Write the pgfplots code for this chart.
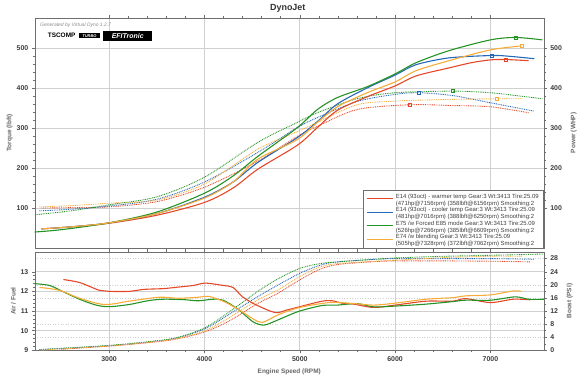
\documentclass[border=0pt]{standalone}
\usepackage{fontspec}
\setmainfont{Liberation Sans}
\usepackage{pgfplots}
\pgfplotsset{compat=1.18}
\definecolor{cred}{RGB}{228,72,40}
\definecolor{cblue}{RGB}{38,104,184}
\definecolor{cgreen}{RGB}{36,146,36}
\definecolor{corange}{RGB}{246,172,56}
\definecolor{gridc}{RGB}{208,208,208}
\definecolor{axc}{RGB}{110,110,110}
\definecolor{tickc}{RGB}{60,60,60}
\pgfplotsset{set layers,
 base/.style={scale only axis, width=513pt, xmin=2220, xmax=7560,
  xtick={3000,4000,5000,6000,7000}, minor x tick num=4,
  axis line style={axc}, every tick/.style={axc},
  tick label style={font=\fontsize{7}{8}\selectfont\bfseries, text=tickc},
  /pgf/number format/assume math mode=true,
  /pgf/number format/set thousands separator={},
  label style={font=\fontsize{6.5}{7}\selectfont\bfseries, text=black!60},
  tick align=outside, major tick length=3pt, minor tick length=1.8pt,
  grid style={gridc, line width=0.6pt}},
 dt/.style={dash pattern=on 0.9pt off 0.9pt, line width=0.9pt, smooth, tension=0.5},
 sl/.style={line width=1.1pt, smooth, tension=0.5},
 pk/.style={only marks, mark=square, mark size=1.5pt, mark options={solid, line width=0.5pt}},
}
\begin{document}
\begin{tikzpicture}
\path (0pt,0pt) rectangle (580pt,381pt);
% ---------- top panel: torque (left) ----------
\begin{axis}[base, at={(35pt,131pt)}, anchor=south west, height=232pt,
  ymin=0, ymax=575, ytick={100,200,300,400,500}, minor y tick num=4,
  xticklabels={}, xmajorgrids, ymajorgrids, ytick pos=left,
  ylabel={Torque (lbft)}, ylabel style={xshift=0pt, yshift=-3pt}]
\addplot[cred, dt] coordinates {(2290,100) (2600,101) (3000,103) (3500,116) (4000,152) (4560,217) (4975,279) (5185,304) (5600,346) (6156,358) (6600,356) (7000,353) (7400,338)};
\addplot[cblue, dt] coordinates {(2270,93) (2600,97) (3000,105) (3500,122) (4000,165) (4560,239) (4975,301) (5185,326) (5600,366) (6000,384) (6250,388) (6600,381) (7000,363) (7460,342)};
\addplot[cgreen, dt] coordinates {(2210,83) (2600,93) (3000,108) (3500,128) (4000,177) (4560,264) (4975,314) (5185,338) (5600,373) (6000,388) (6609,392) (7000,388) (7300,380) (7545,373)};
\addplot[corange, dt] coordinates {(2270,103) (2600,106) (3000,112) (3500,120) (4000,160) (4560,247) (4975,291) (5185,314) (5600,358) (6000,367) (6500,371) (7062,373) (7335,373)};
\addplot[cred, pk] coordinates {(6156,358)};
\addplot[cblue, pk] coordinates {(6250,388)};
\addplot[cgreen, pk] coordinates {(6609,392)};
\addplot[corange, pk] coordinates {(7062,373)};
\end{axis}
% ---------- top panel: power (right) ----------
\begin{axis}[base, at={(35pt,131pt)}, anchor=south west, height=232pt,
  ymin=0, ymax=575, ytick={100,200,300,400,500}, minor y tick num=4,
  xticklabels={}, ytick pos=right, yticklabel pos=right,
  ylabel={Power (WHP)}, ylabel style={yshift=-2pt},
  legend style={at={(1,0)}, anchor=south east, draw=axc, fill=white,
    font=\fontsize{6}{6.6}\selectfont, text=black!75, inner xsep=3pt, inner ysep=2pt,
    row sep=0pt, cells={anchor=west}},
  legend image code/.code={\draw[#1] (0pt,0pt) -- (27pt,0pt);}]
\addplot[cred, sl, forget plot] coordinates {(2290,48) (2600,53) (3000,62) (3500,82) (4000,114) (4300,150) (4560,197) (4975,257) (5185,301) (5395,344) (5707,378) (6000,405) (6220,430) (6565,450) (6800,463) (7000,470) (7156,471) (7400,468)};
\addplot[cblue, sl, forget plot] coordinates {(2290,48) (2600,53) (3000,63) (3500,86) (4000,127) (4300,165) (4560,214) (4975,276) (5185,316) (5395,360) (5707,400) (6000,432) (6220,458) (6565,475) (7016,481) (7200,479) (7460,473)};
\addplot[cgreen, sl, forget plot] coordinates {(2210,40) (2500,46) (3000,63) (3500,90) (4000,137) (4300,180) (4560,229) (4975,301) (5185,346) (5395,376) (5707,403) (6000,435) (6220,463) (6565,493) (7000,520) (7266,526) (7545,520)};
\addplot[corange, sl, forget plot] coordinates {(2290,48) (2600,53) (3000,63) (3500,86) (4000,125) (4300,165) (4560,222) (4975,271) (5185,314) (5395,353) (5707,388) (6000,415) (6220,443) (6565,468) (7000,495) (7328,505)};
\addplot[cred, pk, forget plot] coordinates {(7156,471)};
\addplot[cblue, pk, forget plot] coordinates {(7016,481)};
\addplot[cgreen, pk, forget plot] coordinates {(7266,526)};
\addplot[corange, pk, forget plot] coordinates {(7328,505)};
\addlegendimage{draw=cred, line width=1.1pt}
\addlegendentry{\begin{tabular}{@{}l@{}}E14 (93oct) - warmer temp Gear:3 Wt:3413 Tire:25.09\\(471hp@7156rpm) (358lbft@6156rpm) Smoothing:2\end{tabular}}
\addlegendimage{draw=cblue, line width=1.1pt}
\addlegendentry{\begin{tabular}{@{}l@{}}E14 (93oct) - cooler temp Gear:3 Wt:3413 Tire:25.09\\(481hp@7016rpm) (388lbft@6250rpm) Smoothing:2\end{tabular}}
\addlegendimage{draw=cgreen, line width=1.1pt}
\addlegendentry{\begin{tabular}{@{}l@{}}E75 /w Forced E85 mode Gear:3 Wt:3413 Tire:25.09\\(526hp@7266rpm) (385lbft@6609rpm) Smoothing:2\end{tabular}}
\addlegendimage{draw=corange, line width=1.1pt}
\addlegendentry{\begin{tabular}{@{}l@{}}E74 /w blending Gear:3 Wt:3413 Tire:25.09\\(505hp@7328rpm) (372lbft@7062rpm) Smoothing:2\end{tabular}}
\end{axis}
% ---------- bottom panel: boost (right) ----------
\begin{axis}[base, at={(35pt,28pt)}, anchor=south west, height=99pt,
  ymin=0, ymax=30, ytick={0,4,8,12,16,20,24,28}, minor y tick num=1,
  xticklabels={}, ymajorgrids, grid style={gridc, dotted, line width=0.6pt},
  ytick pos=right, yticklabel pos=right, ylabel={Boost (PSI)}, ylabel style={yshift=-2pt}]
\addplot[cred, dt] coordinates {(2500,0.3) (3000,1.3) (3400,2.3) (3700,3.4) (4000,5.6) (4250,8.8) (4560,14.3) (4770,17.4) (5000,21.5) (5215,24.8) (5400,26.2) (5735,27) (6000,27.3) (6500,27.3) (7000,27.2) (7420,27)};
\addplot[cblue, dt] coordinates {(2270,0.2) (3000,1.4) (3400,2.5) (3700,3.7) (4000,6.5) (4250,10.8) (4560,16.4) (4770,19.9) (5000,23.5) (5215,26) (5400,27) (5735,27.7) (6000,28) (6500,28) (7000,28) (7460,27.8)};
\addplot[cgreen, dt] coordinates {(2270,0.2) (3000,1.5) (3400,2.6) (3700,3.8) (4000,6.8) (4250,11.5) (4560,18) (4770,21.8) (5000,25) (5215,26.5) (5400,27) (5735,27.7) (6000,28.2) (6500,28.7) (7000,29) (7560,29.4)};
\addplot[corange, dt] coordinates {(2270,0) (3000,1.3) (3400,2.4) (3700,3.5) (4000,5.9) (4250,9.8) (4560,15.4) (4770,18.4) (5000,22.5) (5215,25.5) (5400,26.5) (5735,27.1) (6000,27.5) (6500,28.3) (7000,28.7) (7330,28.7)};
\end{axis}
% ---------- bottom panel: air/fuel (left) ----------
\begin{axis}[base, at={(35pt,28pt)}, anchor=south west, height=99pt,
  ymin=9, ymax=14, ytick={9,10,11,12,13}, minor y tick num=4,
  xmajorgrids, ymajorgrids, ytick pos=left,
  ylabel={Air / Fuel}, ylabel style={yshift=-2pt}, xlabel={Engine Speed (RPM)}]
\addplot[cred, sl] coordinates {(2520,12.6) (2690,12.45) (2900,12.05) (3000,12.0) (3210,12.0) (3365,12.1) (3570,12.14) (3730,12.22) (3885,12.3) (4010,12.42) (4195,12.3) (4300,12.2) (4405,11.7) (4560,11.27) (4745,10.92) (4865,11.05) (5025,11.25) (5235,11.5) (5340,11.52) (5445,11.4) (5565,11.35) (5775,11.18) (6000,11.3) (6325,11.5) (6605,11.5) (6740,11.63) (7000,11.43) (7240,11.6) (7420,11.57)};
\addplot[cgreen, sl] coordinates {(2200,12.4) (2375,12.3) (2510,12.0) (2690,11.6) (2865,11.3) (3000,11.22) (3210,11.33) (3415,11.53) (3570,11.6) (3780,11.58) (3935,11.52) (4090,11.6) (4195,11.55) (4350,11.1) (4510,10.45) (4620,10.28) (4700,10.4) (4865,10.74) (5000,11.0) (5235,11.28) (5395,11.3) (5600,11.38) (5775,11.21) (6000,11.25) (6325,11.35) (6605,11.48) (6740,11.55) (7000,11.55) (7260,11.72) (7400,11.6) (7560,11.6)};
\addplot[corange, sl] coordinates {(2270,12.2) (2480,12.05) (2690,11.65) (2950,11.33) (3210,11.5) (3520,11.7) (3730,11.65) (3935,11.7) (4040,11.75) (4195,11.5) (4350,11.1) (4510,10.6) (4610,10.42) (4770,10.8) (5000,11.18) (5315,11.43) (5565,11.38) (5775,11.3) (6000,11.4) (6325,11.6) (6605,11.68) (6740,11.77) (7000,11.82) (7240,12.02) (7325,12.0)};
\end{axis}
% ---------- titles and decorations ----------
\node[font=\fontsize{9}{10}\selectfont\bfseries, text=black!80] at (290pt,373pt) {DynoJet};
\node[anchor=west, font=\fontsize{5}{5}\selectfont\itshape, text=black!45] at (37pt,356pt) {Generated by Virtual Dyno 1.2.7};
\node[anchor=west, font=\fontsize{6.5}{6.5}\selectfont\bfseries, inner sep=0pt] at (48pt,345pt) {TSCOMP};
\node[anchor=west, fill=black, text=white, font=\fontsize{4}{4}\selectfont\bfseries\itshape, inner sep=1pt, minimum width=22pt, minimum height=5pt] at (79pt,345pt) {TURBO};
\node[anchor=west, fill=black, text=white, font=\fontsize{7}{7}\selectfont\bfseries\itshape, inner sep=1pt, minimum width=49pt, minimum height=10pt] at (104pt,345pt) {EFITronic};
\end{tikzpicture}
\end{document}
